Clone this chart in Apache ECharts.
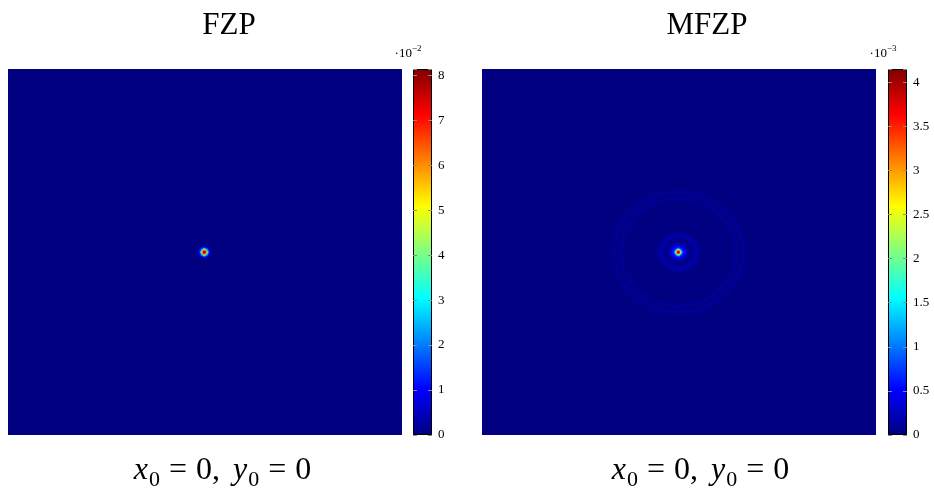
<!DOCTYPE html>
<html>
<head>
<meta charset="utf-8">
<script src="https://cdn.jsdelivr.net/npm/echarts@6/dist/echarts.min.js"></script>
<style>html,body{margin:0;padding:0;background:#fff}#c{width:934px;height:490px}</style>
</head>
<body>
<div id="c"></div>
<script>
// Radial intensity profiles (one value per pixel of radius)
const fzpProfile = [8.1, 7.5, 6.0, 4.0, 2.2, 1.0, 0.4, 0.15, 0.05];       // ×10^-2
const mfzpProfile = [
  4.15, 3.7, 2.8, 1.7, 0.9, 0.6, 0.5, 0.42, 0.32, 0.2,
  0.1, 0.04, 0.02, 0.02, 0.04, 0.08, 0.13, 0.17, 0.18, 0.16,
  0.12, 0.07, 0.03, 0, 0, 0, 0, 0, 0, 0,
  0, 0, 0, 0, 0, 0, 0, 0, 0, 0,
  0, 0, 0, 0, 0, 0, 0, 0, 0, 0,
  0, 0, 0, 0, 0, 0.02, 0.06, 0.09, 0.09, 0.06,
  0.02, 0, 0.02, 0.05, 0.07, 0.08, 0.07, 0.05, 0.02
];                                                                        // ×10^-3
const fzpMax = 8.14;
const mfzpMax = 4.15;
const fzpTickStep = 1;
const mfzpTickStep = 0.5;
const titles = ['FZP', 'MFZP'];
const exponents = ['−2', '−3'];

const NX = 394, NY = 366;       // image cells
const CX = 196, CY = 183;       // centre cell
const xCats = [], yCats = [];
for (let i = 0; i < NX; i++) xCats.push(i);
for (let j = 0; j < NY; j++) yCats.push(j);

function buildCells(profile) {
  const out = [];
  const sy = NX / NY;
  const R = profile.length + 1;
  for (let j = Math.max(0, CY - R); j <= Math.min(NY - 1, CY + R); j++) {
    for (let i = Math.max(0, CX - R); i <= Math.min(NX - 1, CX + R); i++) {
      const dx = i - CX, dy = (j - CY) * sy;
      const k = Math.round(Math.sqrt(dx * dx + dy * dy));
      if (k < profile.length && profile[k] > 0) out.push([i, j, profile[k]]);
    }
  }
  return out;
}

const jet = ['#000080', '#0000ff', '#0080ff', '#00ffff', '#80ff80', '#ffff00', '#ff8000', '#ff0000', '#800000'];
const FONT = 'Liberation Serif';

const chart = echarts.init(document.getElementById('c'), null, {renderer: 'canvas'});

function cbAxes(grid, max, step, pos) {
  return {
    gridIndex: grid, type: 'value', min: 0, max: max, interval: step, position: pos, z: 5,
    axisLine: {show: false},
    splitLine: {show: false},
    axisTick: {show: true, inside: true, length: 4, lineStyle: {color: '#8a8a8a', width: 1}},
    axisLabel: {
      show: pos === 'right', color: '#000', fontFamily: FONT, fontSize: 13, margin: 6,
      formatter: v => (Math.abs(v / step - Math.round(v / step)) < 1e-6 ? String(+v.toFixed(2)) : '')
    }
  };
}
const gradient = new echarts.graphic.LinearGradient(0, 0, 0, 1,
  jet.slice().reverse().map((c, i) => ({offset: i / 8, color: c})));

const heatGrids = [8, 482], barGrids = [413, 888];
const option = {
  animation: false,
  grid: [
    {left: heatGrids[0], top: 69, width: NX, height: NY, show: true, backgroundColor: '#000080', borderWidth: 0},
    {left: barGrids[0], top: 69, width: 19, height: NY},
    {left: heatGrids[1], top: 69, width: NX, height: NY, show: true, backgroundColor: '#000080', borderWidth: 0},
    {left: barGrids[1], top: 69, width: 19, height: NY}
  ],
  xAxis: [
    {gridIndex: 0, type: 'category', data: xCats, show: false},
    {gridIndex: 1, type: 'category', data: ['c'], show: false},
    {gridIndex: 2, type: 'category', data: xCats, show: false},
    {gridIndex: 3, type: 'category', data: ['c'], show: false}
  ],
  yAxis: [
    {gridIndex: 0, type: 'category', data: yCats, inverse: true, show: false},
    cbAxes(1, fzpMax, fzpTickStep, 'right'),
    cbAxes(1, fzpMax, fzpTickStep, 'left'),
    {gridIndex: 2, type: 'category', data: yCats, inverse: true, show: false},
    cbAxes(3, mfzpMax, mfzpTickStep, 'right'),
    cbAxes(3, mfzpMax, mfzpTickStep, 'left')
  ],
  visualMap: [
    {type: 'continuous', seriesIndex: 0, min: 0, max: fzpMax, show: false, inRange: {color: jet}},
    {type: 'continuous', seriesIndex: 2, min: 0, max: mfzpMax, show: false, inRange: {color: jet}}
  ],
  series: [
    {type: 'heatmap', xAxisIndex: 0, yAxisIndex: 0, data: buildCells(fzpProfile), progressive: 0, emphasis: {disabled: true}},
    {type: 'bar', xAxisIndex: 1, yAxisIndex: 1, data: [fzpMax], barWidth: '100%', z: 1,
     itemStyle: {color: gradient, borderColor: '#000', borderWidth: 1}, silent: true},
    {type: 'heatmap', xAxisIndex: 2, yAxisIndex: 3, data: buildCells(mfzpProfile), progressive: 0, emphasis: {disabled: true}},
    {type: 'bar', xAxisIndex: 3, yAxisIndex: 4, data: [mfzpMax], barWidth: '100%', z: 1,
     itemStyle: {color: gradient, borderColor: '#000', borderWidth: 1}, silent: true}
  ],
  graphic: []
};

const centers = [229, 707];
const expX = [408, 883];
for (let p = 0; p < 2; p++) {
  option.graphic.push({
    type: 'text', x: centers[p], y: 26, z: 10,
    style: {text: titles[p], fill: '#000', font: '31px "' + FONT + '"', textAlign: 'center', textVerticalAlign: 'middle'}
  });
  option.graphic.push({
    type: 'text', x: centers[p], y: 471, z: 10,
    style: {
      text: '{i|x}{s|0}{e|=}{n|0,}{i|y}{s|0}{e|=}{n|0}',
      textAlign: 'center', textVerticalAlign: 'middle', fill: '#000',
      rich: {
        i: {fontFamily: FONT, fontSize: 32, fontStyle: 'italic', lineHeight: 40},
        n: {fontFamily: FONT, fontSize: 32, lineHeight: 40, padding: [0, 13, 0, 0]},
        e: {fontFamily: FONT, fontSize: 32, lineHeight: 40, padding: [0, 9, 0, 9]},
        s: {fontFamily: FONT, fontSize: 22, lineHeight: 24, verticalAlign: 'bottom', padding: [0, 0, 0, 1]}
      }
    }
  });
  option.graphic.push({
    type: 'text', x: expX[p], y: 52, z: 10,
    style: {
      text: '{a|·10}{b|' + exponents[p] + '}',
      textAlign: 'center', textVerticalAlign: 'middle', fill: '#000',
      rich: {
        a: {fontFamily: FONT, fontSize: 13, lineHeight: 16, verticalAlign: 'bottom'},
        b: {fontFamily: FONT, fontSize: 9, lineHeight: 10, verticalAlign: 'top'}
      }
    }
  });
}

chart.setOption(option);
</script>
</body>
</html>
